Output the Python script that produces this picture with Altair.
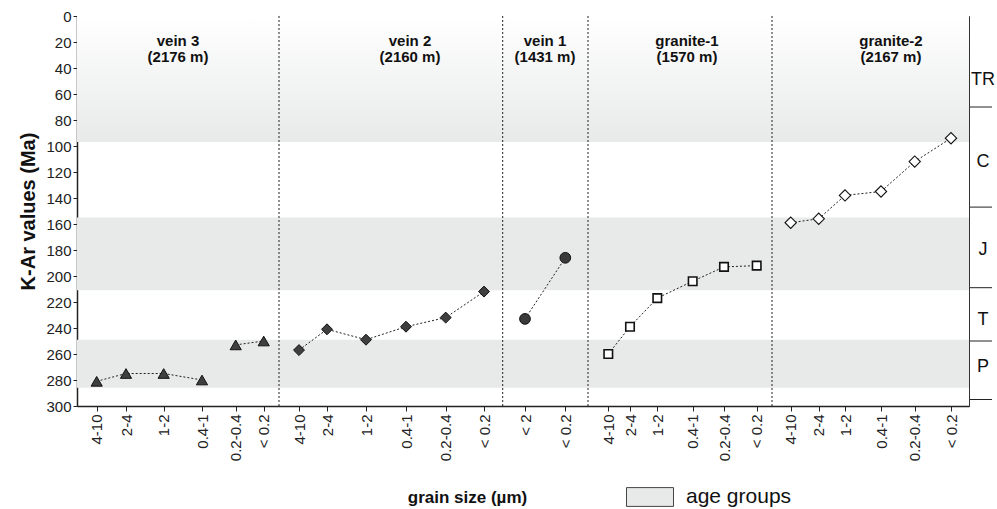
import json
import altair as alt
import pandas as pd

# ---------------- data ----------------
groups = ["vein 3", "vein 2", "vein 1", "granite-1", "granite-2"]
depths = ["(2176 m)", "(2160 m)", "(1431 m)", "(1570 m)", "(2167 m)"]

grain_std = ["4-10", "2-4", "1-2", "0.4-1", "0.2-0.4", "< 0.2"]
grain_vein1 = ["< 2", "< 0.2"]

# position of each grain-size class along the horizontal axis (axis units)
x_vein3 = [19.7, 49, 86.7, 125, 158.7, 186.7]
x_vein2 = [222, 250, 289, 329, 368.7, 407]
x_vein1 = [448, 488.3]
x_gran1 = [531.3, 553, 580.3, 615.7, 647, 679.7]
x_gran2 = [713.7, 741.7, 768, 804, 837.7, 874]

# K-Ar ages (Ma)
age_vein3 = [281, 275, 275, 280, 253, 250]
age_vein2 = [257, 241, 249, 239, 232, 212]
age_vein1 = [233, 186]
age_gran1 = [260, 239, 217, 204, 193, 192]
age_gran2 = [159, 156, 138, 135, 112, 94]

# line segments (vein 3 is broken between 0.4-1 and 0.2-0.4)
seg_vein3 = [0, 0, 0, 0, 1, 1]

separators = [202, 425.7, 511, 695]
header_x = [101, 333, 468, 610, 814]

# age-group bands (Ma)
grad_band = [0, 97]
band_top = [155, 249]
band_bottom = [211, 286]

# geological periods on the right
periods = ["TR", "C", "J", "T", "P"]
period_mid = [49, 112, 180, 234, 270]
period_bounds = [70, 147, 209, 250, 295]

# ---------------- build tables ----------------
rows = []
spec = [
    ("vein 3", grain_std, x_vein3, age_vein3, seg_vein3),
    ("vein 2", grain_std, x_vein2, age_vein2, [0] * 6),
    ("vein 1", grain_vein1, x_vein1, age_vein1, [0] * 2),
    ("granite-1", grain_std, x_gran1, age_gran1, [0] * 6),
    ("granite-2", grain_std, x_gran2, age_gran2, [0] * 6),
]
for g, gr, xs, ages, segs in spec:
    for a, b, c, d in zip(gr, xs, ages, segs):
        rows.append({"group": g, "grain": a, "x": b, "age": c, "seg": f"{g}-{d}"})
pts = pd.DataFrame(rows)

all_x = pts["x"].tolist()
all_lab = pts["grain"].tolist()

FONT = "Liberation Sans"
W, H = 892, 390

x_scale = alt.Scale(domain=[0, 892], nice=False, zero=False)
y_scale = alt.Scale(domain=[0, 300], reverse=True, nice=False, zero=False)

label_expr = f"{json.dumps(all_lab)}[indexof({json.dumps(all_x)}, datum.value)]"

x_axis = alt.Axis(
    values=all_x, labelExpr=label_expr, labelAngle=270, labelOverlap=False,
    labelFlush=False, grid=False, tickSize=5, labelPadding=3,
    labelFontSize=15, labelColor="#222", domainColor="#222", tickColor="#222",
    domainWidth=1.5, title="grain size (µm)", titleFontSize=17,
    titleFontWeight="bold", titleColor="#111", titleX=390, titleY=91,
    titleAlign="center", titleBaseline="middle",
)
y_axis = alt.Axis(
    values=list(range(0, 301, 20)), grid=False, tickSize=4, labelFontSize=15,
    labelColor="#222", domainColor="#222", tickColor="#222", domainWidth=1.5,
    labelPadding=2, title="K-Ar values (Ma)", titleFontSize=20,
    titleFontWeight="bold", titleColor="#111", titleX=-49, titleY=195,
    titleAngle=270, titleAlign="center", titleBaseline="middle",
)

X = lambda f: alt.X(f, type="quantitative", scale=x_scale, axis=x_axis)
Y = lambda f: alt.Y(f, type="quantitative", scale=y_scale, axis=y_axis)

# gradient band at the top
grad = alt.Chart(pd.DataFrame({"y0": [grad_band[0]], "y1": [grad_band[1]]})).mark_rect(
    color=alt.LinearGradient(
        gradient="linear", x1=0, x2=0, y1=0, y2=1,
        stops=[alt.GradientStop(color="#ffffff", offset=0),
               alt.GradientStop(color="#e8e9e9", offset=1)],
    )
).encode(x=alt.value(0), x2=alt.value("width"), y=Y("y0"), y2=alt.Y2("y1"))

bands_df = pd.DataFrame({"y0": band_top, "y1": band_bottom, "kind": ["age groups"] * 2})
bands = alt.Chart(bands_df).mark_rect().encode(
    x=alt.value(0), x2=alt.value("width"), y=Y("y0"), y2=alt.Y2("y1"),
    color=alt.Color(
        "kind:N", scale=alt.Scale(range=["#e8e9e9"]),
        legend=alt.Legend(
            title=None, orient="none", legendX=549, legendY=457, padding=0,
            symbolType="M-1,-0.4H1V0.4H-1Z", symbolSize=2209,
            symbolStrokeColor="#444", symbolStrokeWidth=1, symbolFillColor="#e8e9e9",
            labelFontSize=21, labelFont=FONT, labelColor="#111", labelOffset=12,
        ),
    ),
)

seps = alt.Chart(pd.DataFrame({"x": separators})).mark_rule(
    color="#222", strokeDash=[2, 2], strokeWidth=1
).encode(x=X("x"))

lines = alt.Chart(pts).mark_line(
    color="#222", strokeDash=[2, 2], strokeWidth=1
).encode(x=X("x"), y=Y("age"), detail="seg:N")

styles = {
    "vein 3": dict(shape="triangle-up", fill="#3f3f3f", size=125, strokeWidth=1),
    "vein 2": dict(shape="diamond", fill="#3f3f3f", size=120, strokeWidth=1),
    "vein 1": dict(shape="circle", fill="#3a3a3a", size=115, strokeWidth=1),
    "granite-1": dict(shape="square", fill="#ffffff", size=72, strokeWidth=1.6),
    "granite-2": dict(shape="diamond", fill="#ffffff", size=128, strokeWidth=1.1),
}
point_layers = []
for g in groups:
    s = styles[g]
    point_layers.append(
        alt.Chart(pts[pts["group"] == g]).mark_point(
            shape=s["shape"], filled=True, fill=s["fill"], stroke="#111",
            strokeWidth=s["strokeWidth"], size=s["size"], opacity=1,
        ).encode(x=X("x"), y=Y("age"))
    )

hdr = pd.DataFrame({"x": header_x, "txt": [f"{g}\n{d}" for g, d in zip(groups, depths)]})
headers = alt.Chart(hdr).mark_text(
    font=FONT, fontSize=15, fontWeight="bold", color="#111", lineBreak="\n",
    lineHeight=16, align="center", baseline="middle",
).encode(x=X("x"), y=alt.value(25), text="txt:N")

per_rules = alt.Chart(pd.DataFrame({"b": period_bounds})).mark_rule(
    color="#222", strokeWidth=1
).encode(x=alt.value(W + 1), x2=alt.value(W + 23), y=Y("b"))

per_text = alt.Chart(pd.DataFrame({"p": periods, "m": period_mid})).mark_text(
    font=FONT, fontSize=18, color="#111", align="center", baseline="middle"
).encode(x=alt.value(W + 14), y=Y("m"), text="p:N")

chart = alt.layer(
    grad, bands, seps, lines, *point_layers, headers, per_rules, per_text
).properties(
    width=W, height=H,
    autosize=alt.AutoSizeParams(type="none"),
    padding={"left": 77, "top": 16, "right": 28, "bottom": 103},
).configure(
    font=FONT
).configure_view(
    stroke="#333", strokeWidth=1
).configure_axis(
    labelFont=FONT, titleFont=FONT
)

chart.save("out.html", embed_options={"renderer": "svg", "actions": False})
